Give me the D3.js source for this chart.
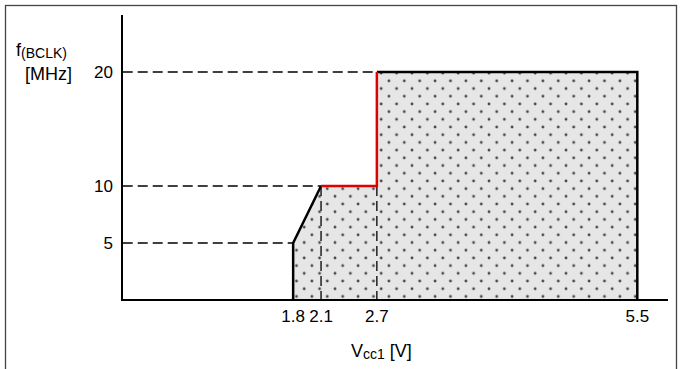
<!DOCTYPE html>
<html>
<head>
<meta charset="utf-8">
<script src="https://cdn.jsdelivr.net/npm/d3@7"></script>
<style>
  body { margin: 0; background: #fff; }
  svg { display: block; font-family: "Liberation Sans", Arial, sans-serif; }
</style>
</head>
<body>
<div id="chart"></div>
<script>
// operating area: supply voltage vs max clock
var voltages = [1.8, 1.8, 2.1, 2.7, 2.7, 5.5, 5.5];
var freqs = [0, 5, 10, 10, 20, 20, 0];
var xTicks = [1.8, 2.1, 2.7, 5.5];
var yTicks = [5, 10, 20];

var width = 680, height = 369;

var svg = d3.select("#chart").append("svg")
    .attr("width", width)
    .attr("height", height);

var x = d3.scaleLinear().domain([-0.04, 5.83]).range([122, 668]);
var y = d3.scaleLinear().domain([0, 25]).range([300, 15]);

var pts = voltages.map(function(v, i) { return [v, freqs[i]]; });

// dotted fill pattern
var pat = svg.append("defs").append("pattern")
    .attr("id", "dots")
    .attr("patternUnits", "userSpaceOnUse")
    .attr("width", 15.4)
    .attr("height", 15.4);
pat.append("rect").attr("width", 15.4).attr("height", 15.4).attr("fill", "#e6e6e6");
pat.append("circle").attr("cx", 3.9).attr("cy", 3.9).attr("r", 1.4).attr("fill", "#444");
pat.append("circle").attr("cx", 11.6).attr("cy", 11.6).attr("r", 1.4).attr("fill", "#444");

// outer frame
svg.append("rect")
    .attr("x", 5.5).attr("y", 5.5)
    .attr("width", 671).attr("height", 400)
    .attr("fill", "none")
    .attr("stroke", "#444")
    .attr("stroke-width", 1.3);

var line = d3.line().x(function(d) { return x(d[0]); }).y(function(d) { return y(d[1]); });

svg.append("path")
    .attr("d", line(pts) + "Z")
    .attr("fill", "url(#dots)")
    .attr("stroke", "none");

// dashed guides
var dash = svg.append("g")
    .attr("stroke", "#000")
    .attr("stroke-width", 1.3)
    .attr("stroke-dasharray", "10,5")
    .attr("fill", "none");

var guideH = [[5, 1.8], [10, 2.1], [20, 2.7]];
guideH.forEach(function(g) {
  dash.append("line")
      .attr("x1", x(0) - 3).attr("x2", x(g[1]))
      .attr("y1", y(g[0])).attr("y2", y(g[0]));
});
[[2.1, 10], [2.7, 10]].forEach(function(g) {
  dash.append("line")
      .attr("x1", x(g[0])).attr("x2", x(g[0]))
      .attr("y1", y(g[1])).attr("y2", y(0));
});

// boundary: black parts
var black = [[[1.8, 0], [1.8, 5], [2.1, 10]], [[2.7, 20], [5.5, 20], [5.5, 0]]];
black.forEach(function(seg) {
  svg.append("path")
      .attr("d", line(seg))
      .attr("fill", "none")
      .attr("stroke", "#000")
      .attr("stroke-width", 2.5);
});
// red part
svg.append("path")
    .attr("d", line([[2.1, 10], [2.7, 10], [2.7, 20]]))
    .attr("fill", "none")
    .attr("stroke", "#e00000")
    .attr("stroke-width", 2.5);

// axes
svg.append("line")
    .attr("x1", 122).attr("x2", 122)
    .attr("y1", 15).attr("y2", 300)
    .attr("stroke", "#000").attr("stroke-width", 2);
svg.append("line")
    .attr("x1", 121).attr("x2", 668)
    .attr("y1", 300).attr("y2", 300)
    .attr("stroke", "#000").attr("stroke-width", 2);

// tick labels
svg.selectAll(".ylab").data(yTicks).enter().append("text")
    .attr("x", 113)
    .attr("y", function(d) { return y(d) + 6; })
    .attr("text-anchor", "end")
    .attr("font-size", 17)
    .text(function(d) { return d; });

svg.selectAll(".xlab").data(xTicks).enter().append("text")
    .attr("x", function(d) { return x(d); })
    .attr("y", 322)
    .attr("text-anchor", "middle")
    .attr("font-size", 17)
    .text(function(d) { return d3.format(".1f")(d); });

// axis titles
var yt = svg.append("text").attr("x", 16).attr("y", 56).attr("font-size", 18);
yt.append("tspan").text("f");
yt.append("tspan").attr("font-size", 14).attr("dy", 2).text("(BCLK)");
svg.append("text").attr("x", 25).attr("y", 80).attr("font-size", 18).text("[MHz]");

var xt = svg.append("text").attr("x", 351).attr("y", 357).attr("font-size", 18);
xt.append("tspan").text("V");
xt.append("tspan").attr("font-size", 14).attr("dy", 2).text("cc1");
xt.append("tspan").attr("dy", -2).text(" [V]");
</script>
</body>
</html>
